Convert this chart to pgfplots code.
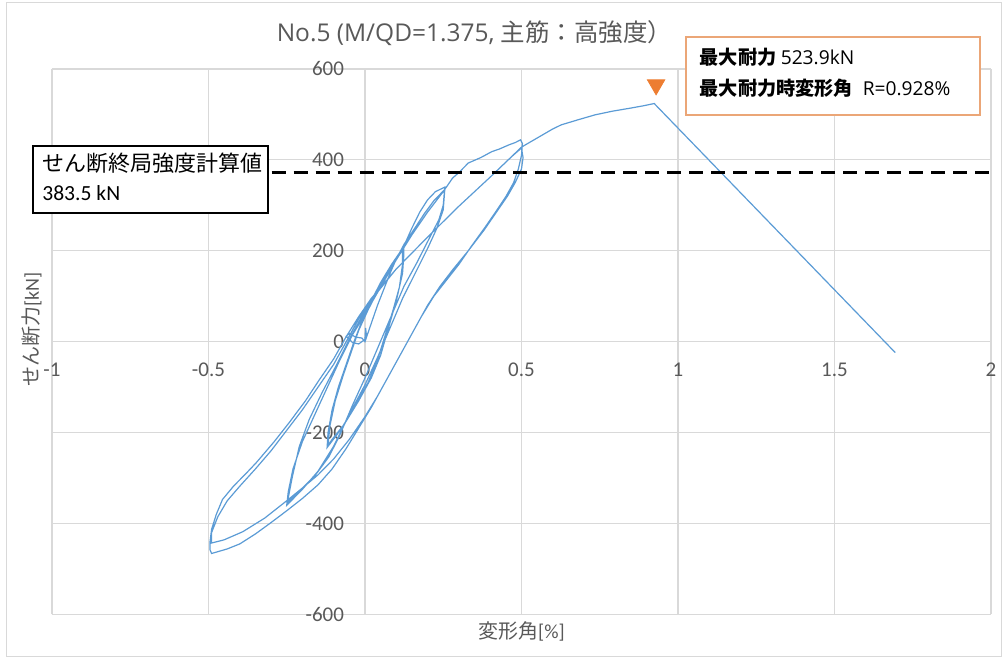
\documentclass[border=0pt]{standalone}
\usepackage{fontspec}
\usepackage{pgfplots}
\pgfplotsset{compat=1.18}
\setmainfont{Carlito}
\newfontfamily\os{Open Sans}
\newfontfamily\jp{Noto Sans CJK JP}
\definecolor{exblue}{HTML}{5B9BD5}
\definecolor{exorange}{HTML}{ED7D31}
\definecolor{boxorange}{HTML}{EBA677}
\definecolor{txtgray}{HTML}{595959}
\definecolor{gridgray}{HTML}{D9D9D9}
\begin{document}
\begin{tikzpicture}[x=1pt,y=1pt]
\path (0,0) rectangle (501.5,329);
\draw[gridgray, line width=0.5pt] (3.5,0.5) rectangle (501,327.5);
\begin{axis}[at={(26pt,21.5pt)}, anchor=south west, scale only axis,
  width=470pt, height=273pt,
  xmin=-1, xmax=2, ymin=-600, ymax=600,
  axis line style={draw=none},
  xtick={-1,-0.5,0,0.5,1,1.5,2},
  ytick={-600,-400,-200,0,200,400,600},
  grid=major,
  major grid style={gridgray, line width=0.6pt},
  major tick length=0pt,
  /pgf/number format/assume math mode=true,
  ticklabel style={font=\fontsize{10.5}{12}\selectfont, text=txtgray},
  xticklabel style={anchor=center, yshift=122.5pt},
  yticklabel style={anchor=east, xshift=149.7pt},
  clip=false]
\addplot[exblue, line width=0.6pt] coordinates {
(0,0) (0.004,18) (0.002,30) (0,5) (-0.02,-5) (-0.04,-2) (-0.06,12) (-0.05,18) (-0.03,10) (-0.01,8) (0,0)
(0.02,40) (0.04,80) (0.06,115) (0.08,150) (0.10,182) (0.124,213)
(0.124,190) (0.12,150) (0.10,90) (0.075,30) (0.05,-30) (0.02,-80) (-0.02,-130) (-0.06,-175) (-0.09,-205) (-0.121,-233)
(-0.118,-200) (-0.105,-150) (-0.085,-100) (-0.06,-50) (-0.035,0) (-0.01,45) (0.02,90) (0.05,130) (0.085,170) (0.12,205)
(0.12,170) (0.11,120) (0.09,70) (0.065,15) (0.04,-40) (0.01,-90) (-0.03,-140) (-0.07,-185) (-0.105,-215) (-0.118,-228)
(-0.112,-185) (-0.095,-130) (-0.07,-75) (-0.045,-25) (-0.02,25) (0.01,70) (0.04,110) (0.08,160) (0.124,210)
(0.15,250) (0.175,285) (0.20,312) (0.225,330) (0.255,340)
(0.25,300) (0.236,268) (0.2,220) (0.166,174) (0.124,121) (0.08,50) (0.04,-15) (0.0,-80) (-0.04,-140) (-0.08,-205) (-0.115,-253) (-0.16,-295) (-0.2,-322) (-0.248,-354)
(-0.232,-297) (-0.21,-231) (-0.178,-171) (-0.137,-112) (-0.09,-50) (-0.05,5) (-0.01,55) (0.03,100) (0.07,150) (0.11,195) (0.15,240) (0.19,282) (0.22,310) (0.255,335)
(0.25,290) (0.23,250) (0.2,205) (0.16,150) (0.12,95) (0.08,30) (0.04,-35) (0.0,-95) (-0.05,-160) (-0.1,-230) (-0.15,-285) (-0.2,-325) (-0.25,-360)
(-0.245,-330) (-0.23,-280) (-0.2,-220) (-0.16,-160) (-0.12,-100) (-0.08,-40) (-0.04,15) (0.0,60) (0.05,120) (0.1,180) (0.15,235) (0.2,285) (0.25,330)
(0.28,360) (0.30,372) (0.33,393) (0.37,405) (0.405,418) (0.43,424) (0.46,433) (0.48,438) (0.497,444) (0.503,436)
(0.5,410) (0.49,380) (0.475,350) (0.45,319) (0.42,288) (0.385,253) (0.34,210) (0.3,170) (0.26,135) (0.22,100) (0.18,55) (0.14,5) (0.1,-45) (0.06,-95) (0.02,-145) (-0.02,-190) (-0.06,-235) (-0.105,-280)
(-0.15,-315) (-0.2,-345) (-0.25,-372) (-0.3,-398) (-0.35,-423) (-0.4,-445) (-0.44,-456) (-0.47,-462) (-0.49,-466) (-0.495,-458) (-0.495,-440)
(-0.49,-413) (-0.475,-380) (-0.455,-347) (-0.42,-318) (-0.38,-290) (-0.347,-266) (-0.29,-220) (-0.242,-178) (-0.19,-130) (-0.146,-84) (-0.1,-38) (-0.06,11) (-0.02,55) (0.02,95) (0.1,160) (0.2,230) (0.3,298) (0.4,362) (0.47,408) (0.5,426)
(0.505,405) (0.5,380) (0.48,350) (0.455,320) (0.42,285) (0.38,245) (0.33,200) (0.28,158) (0.24,122) (0.2,80) (0.16,30) (0.12,-20) (0.08,-70) (0.04,-120) (0.0,-165) (-0.05,-215) (-0.1,-258) (-0.15,-293) (-0.2,-322) (-0.25,-350) (-0.32,-388) (-0.39,-418) (-0.45,-436) (-0.49,-443)
(-0.49,-420) (-0.47,-385) (-0.44,-350) (-0.4,-318) (-0.35,-280) (-0.3,-240) (-0.25,-195) (-0.2,-150) (-0.15,-100) (-0.1,-50) (-0.06,0) (-0.02,50) (0.02,92) (0.1,160) (0.2,230) (0.3,298) (0.4,362) (0.5,428)
(0.53,440) (0.56,452) (0.6,468) (0.627,477) (0.68,488) (0.735,499) (0.79,507) (0.85,514) (0.89,519) (0.924,523.9) (1.694,-24)
};
\addplot[black, line width=1.5pt, dash pattern=on 7pt off 4pt] coordinates {(-1,372) (2,372)};
\addplot[only marks, mark=triangle*, mark size=5pt, mark options={rotate=180, fill=exorange, draw=exorange}] coordinates {(0.93,565)};
\end{axis}
% title and labels
\node[text=txtgray, font=\fontsize{12.25}{14}\selectfont] at (237.5,312.5) {\os No.5 (M/QD=1.375, {\jp 主筋：高強度）}};
\node[text=txtgray, font=\fontsize{10}{12}\selectfont] at (261,13) {{\jp 変形角}[\%]};
\node[text=txtgray, font=\fontsize{10}{12}\selectfont, rotate=90] at (16,164) {{\jp せん断力}[kN]};
% left box
\draw[black, line width=0.9pt, fill=white] (16.5,222.5) rectangle (134,256);
\node[anchor=west, inner sep=0pt, font=\fontsize{11}{13}\selectfont] at (21,247.5) {\jp せん断終局強度計算値};
\node[anchor=west, inner sep=0pt, font=\fontsize{10.8}{13}\selectfont] at (21,232.5) {383.5 kN};
% right box
\draw[boxorange, line width=0.9pt, fill=white] (343.5,271.5) rectangle (490.5,310.5);
\node[anchor=west, inner sep=0pt, font=\fontsize{9.6}{12}\selectfont] at (350,300.5) {{\jp\bfseries 最大耐力} {\os 523.9kN}};
\node[anchor=west, inner sep=0pt, font=\fontsize{9.6}{12}\selectfont] at (350,285) {{\jp\bfseries 最大耐力時変形角}\enspace{\os R=0.928\%}};
\end{tikzpicture}
\end{document}
